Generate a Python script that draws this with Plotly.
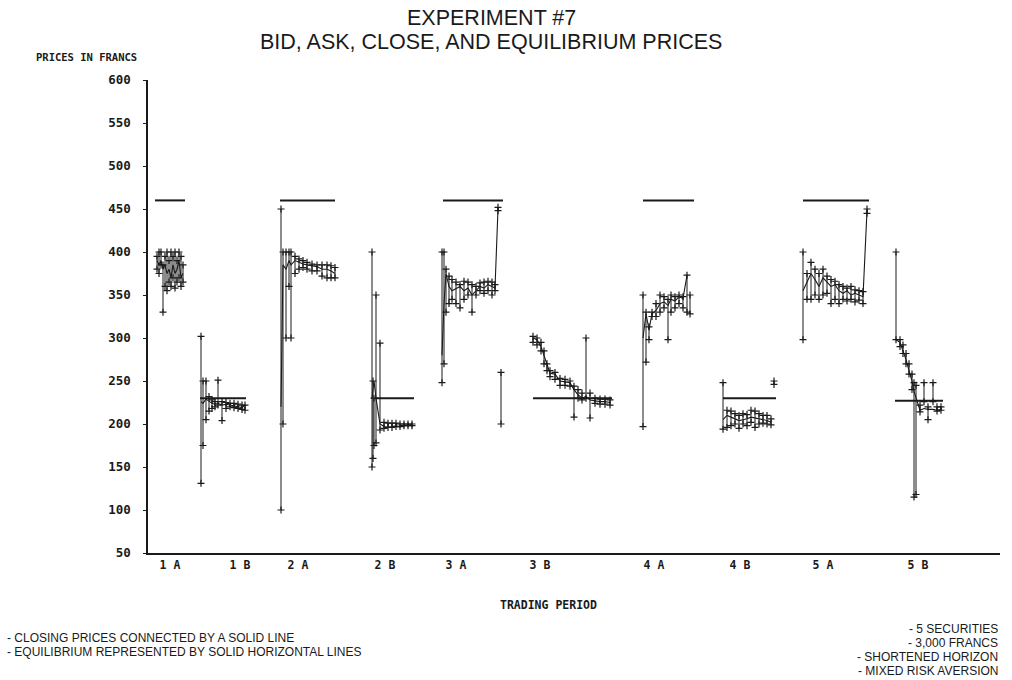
import math
import plotly.graph_objects as go

NaN = math.nan

# Trading periods: label, tick position on the time axis
period_labels = ["1 A", "1 B", "2 A", "2 B", "3 A", "3 B", "4 A", "4 B", "5 A", "5 B"]
period_ticks = [170, 240, 298, 385, 456, 540, 654, 740, 823, 918]

# Equilibrium price for each period and the time span it covers
eq_price = [460, 230, 460, 230, 460, 230, 460, 230, 460, 227]
eq_start = [155, 200, 280, 375, 443, 533, 643, 723, 803, 895]
eq_end = [185, 246, 335, 414, 503, 612, 694, 776, 869, 943]

# Transactions per period: time, best bid, best ask, closing price
t_1a = [157, 159, 161, 163, 165, 167, 169, 171, 173, 175, 177, 179, 181, 183]
bid_1a = [380, 375, 385, 330, 360, 355, 365, 360, 370, 358, 365, 370, 360, 365]
ask_1a = [395, 400, 400, 385, 395, 400, 390, 400, 395, 400, 390, 400, 395, 385]
close_1a = [390, 385, 390, 380, 385, 375, 380, 370, 385, 375, 380, 390, 370, 375]

t_1b = [201, 203, 206, 209, 212, 215, 218, 222, 226, 230, 234, 238, 242, 245]
bid_1b = [131, 175, 205, 215, 218, 220, 222, 204, 218, 220, 219, 218, 217, 216]
ask_1b = [302, 250, 250, 232, 228, 226, 251, 226, 225, 224, 224, 223, 222, 222]
close_1b = [226, 224, 229, 226, 224, 223, 224, 222, 223, 222, 221, 220, 219, 222]

t_2a = [281, 283, 286, 289, 291, 295, 299, 303, 307, 312, 317, 322, 327, 331, 335]
bid_2a = [100, 200, 300, 360, 300, 375, 380, 382, 380, 378, 378, 372, 370, 370, 370]
ask_2a = [450, 400, 400, 400, 400, 395, 392, 390, 388, 386, 385, 385, 385, 384, 382]
close_2a = [220, 385, 380, 390, 385, 390, 388, 386, 385, 384, 383, 380, 380, 378, 375]

t_2b = [372, 373, 374, 376, 380, 384, 388, 392, 396, 400, 404, 408, 412]
bid_2b = [150, 160, 175, 178, 193, 195, 196, 196, 197, 197, 198, 198, 198]
ask_2b = [400, 250, 230, 350, 294, 202, 201, 201, 201, 200, 200, 200, 200]
close_2b = [230, 240, 250, 230, 200, 197, 196, 197, 198, 197, 198, 199, 199]

t_3a = [442, 444, 446, 449, 452, 456, 460, 464, 468, 472, 476, 480, 484, 488, 492, 495, 498, 501]
bid_3a = [248, 270, 330, 340, 345, 340, 335, 345, 350, 330, 350, 355, 352, 355, 350, 355, 448, 200]
ask_3a = [400, 400, 380, 372, 368, 365, 362, 366, 365, 362, 360, 364, 365, 366, 365, 362, 452, 260]
close_3a = [280, 340, 375, 360, 355, 358, 360, 355, 358, 350, 355, 360, 358, 362, 360, 358, 450, NaN]

t_3b = [533, 537, 541, 544, 547, 550, 555, 560, 565, 570, 574, 578, 582, 586, 590, 595, 600, 605, 610]
bid_3b = [295, 292, 285, 270, 262, 255, 252, 245, 245, 244, 208, 230, 228, 230, 207, 224, 223, 223, 222]
ask_3b = [302, 300, 295, 285, 270, 262, 260, 253, 252, 250, 244, 240, 236, 300, 236, 230, 229, 229, 228]
close_3b = [300, 298, 290, 280, 268, 259, 258, 250, 249, 248, 240, 234, 230, 232, 228, 227, 226, 226, 225]

t_4a = [643, 646, 649, 652, 656, 660, 664, 668, 671, 675, 679, 683, 687, 690]
bid_4a = [197, 272, 298, 325, 325, 330, 335, 298, 330, 335, 340, 335, 330, 328]
ask_4a = [350, 330, 313, 330, 340, 350, 348, 345, 350, 348, 350, 348, 373, 350]
close_4a = [300, 328, 310, 328, 332, 340, 342, 338, 345, 343, 348, 346, 373, NaN]

t_4b = [723, 727, 731, 735, 739, 743, 747, 751, 755, 759, 763, 767, 771, 774]
bid_4b = [194, 196, 198, 200, 195, 200, 198, 202, 196, 200, 201, 200, 199, 246]
ask_4b = [248, 216, 215, 212, 210, 212, 211, 216, 215, 212, 210, 210, 206, 250]
close_4b = [205, 210, 208, 206, 204, 205, 206, 208, 207, 206, 205, 204, 202, NaN]

t_5a = [803, 807, 811, 815, 819, 823, 827, 831, 835, 839, 843, 847, 851, 855, 859, 863, 867]
bid_5a = [298, 345, 345, 350, 345, 350, 352, 340, 345, 340, 345, 343, 345, 342, 344, 340, 445]
ask_5a = [400, 375, 388, 380, 375, 380, 372, 368, 366, 362, 360, 358, 360, 356, 355, 354, 450]
close_5a = [355, 365, 375, 368, 360, 370, 365, 360, 362, 355, 352, 355, 350, 352, 350, 348, 448]

t_5b = [896, 900, 903, 906, 909, 912, 914, 916, 920, 924, 928, 933, 937, 941]
bid_5b = [298, 290, 282, 270, 258, 240, 115, 118, 214, 226, 205, 226, 215, 216]
ask_5b = [400, 298, 292, 282, 270, 258, 248, 245, 222, 248, 220, 248, 220, 220]
close_5b = [298, 295, 285, 275, 262, 250, 238, 230, 216, 218, 217, 217, 216, 217]

periods = [
    (t_1a, bid_1a, ask_1a, close_1a),
    (t_1b, bid_1b, ask_1b, close_1b),
    (t_2a, bid_2a, ask_2a, close_2a),
    (t_2b, bid_2b, ask_2b, close_2b),
    (t_3a, bid_3a, ask_3a, close_3a),
    (t_3b, bid_3b, ask_3b, close_3b),
    (t_4a, bid_4a, ask_4a, close_4a),
    (t_4b, bid_4b, ask_4b, close_4b),
    (t_5a, bid_5a, ask_5a, close_5a),
    (t_5b, bid_5b, ask_5b, close_5b),
]

INK = "#1a1a1a"
DOT_FONT = "DejaVu Sans Mono"
TEXT_FONT = "Liberation Sans Narrow, Liberation Sans, Arial"


def dot_font(size):
    return dict(family=DOT_FONT, size=size, color=INK, weight="bold")


def text_font(size):
    return dict(family=TEXT_FONT, size=size, color=INK)


fig = go.Figure()

for t, bid, ask, close in periods:
    # bid-ask spread as a vertical bar for each transaction
    xs, ys = [], []
    for ti, b, a in zip(t, bid, ask):
        xs += [ti, ti, None]
        ys += [b, a, None]
    fig.add_trace(go.Scatter(
        x=xs, y=ys, mode="lines+markers",
        line=dict(color=INK, width=1),
        marker=dict(symbol="cross-thin", size=5, line=dict(color=INK, width=1.2)),
        hoverinfo="skip", showlegend=False,
    ))
    # closing prices connected by a solid line
    fig.add_trace(go.Scatter(
        x=t, y=close, mode="lines",
        line=dict(color=INK, width=1.1),
        connectgaps=False, showlegend=False,
    ))

# equilibrium levels as solid horizontal lines
for p, x0, x1 in zip(eq_price, eq_start, eq_end):
    fig.add_trace(go.Scatter(
        x=[x0, x1], y=[p, p], mode="lines",
        line=dict(color=INK, width=2),
        hoverinfo="skip", showlegend=False,
    ))

fig.update_layout(
    width=1012, height=680,
    margin=dict(l=148, r=12, t=80, b=127),
    paper_bgcolor="white", plot_bgcolor="white",
    showlegend=False,
    xaxis=dict(
        range=[148, 1000], showgrid=False, zeroline=False,
        showline=True, linecolor=INK, linewidth=1.5,
        tickmode="array", tickvals=period_ticks, ticktext=period_labels,
        ticks="", tickfont=dot_font(11.5),
    ),
    yaxis=dict(
        range=[50, 600], showgrid=False, zeroline=False,
        showline=True, linecolor=INK, linewidth=1.5,
        tickmode="array", tickvals=list(range(50, 601, 50)),
        ticks="outside", ticklen=3, tickcolor=INK,
        ticklabelstandoff=10,
        tickfont=dot_font(12.5),
    ),
)

# free text placed in page pixels: (text, x, y, anchor, font)
labels = [
    ("EXPERIMENT #7", 491, 18, "center", text_font(21.5)),
    ("BID, ASK, CLOSE, AND EQUILIBRIUM PRICES", 491, 42, "center", text_font(21.5)),
    ("PRICES IN FRANCS", 86, 57, "center", dot_font(10.5)),
    ("TRADING PERIOD", 548, 605, "center", dot_font(11.5)),
    ("- CLOSING PRICES CONNECTED BY A SOLID LINE", 5, 638, "left", text_font(12)),
    ("- EQUILIBRIUM REPRESENTED BY SOLID HORIZONTAL LINES", 5, 652, "left", text_font(12)),
    ("- 5 SECURITIES", 1000, 629, "right", text_font(12)),
    ("- 3,000 FRANCS", 1000, 643, "right", text_font(12)),
    ("- SHORTENED HORIZON", 1000, 657, "right", text_font(12)),
    ("- MIXED RISK AVERSION", 1000, 671, "right", text_font(12)),
]
W, H = 1012, 680
for text, px, py, anchor, font in labels:
    fig.add_annotation(
        text=text, showarrow=False, xref="paper", yref="paper",
        x=(px - 148) / (W - 148 - 12), y=1 - (py - 80) / (H - 80 - 127),
        xanchor=anchor, yanchor="middle", font=font,
    )

fig.write_html("out.html")
